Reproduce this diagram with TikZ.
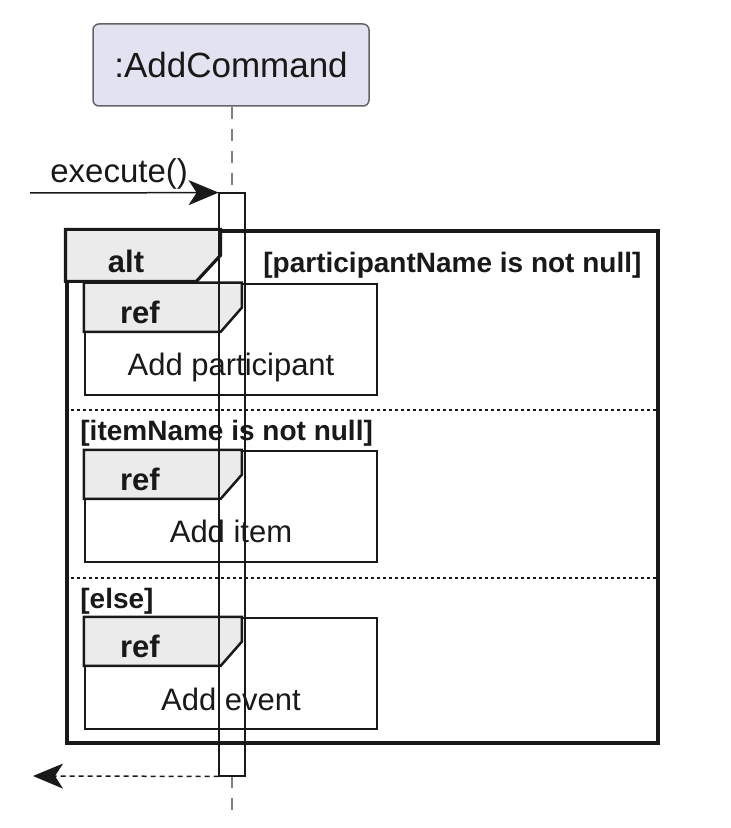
\documentclass[tikz,border=0pt]{standalone}
\usepackage{fontspec}
\setmainfont{Liberation Sans}
\usetikzlibrary{arrows.meta}
\definecolor{partfill}{RGB}{226,226,240}
\definecolor{partdraw}{RGB}{100,100,100}
\definecolor{tabfill}{RGB}{235,235,235}
\definecolor{ink}{RGB}{25,25,25}
\begin{document}
\begin{tikzpicture}[x=0.5pt,y=-0.5pt,
  participant/.style={draw=partdraw, fill=partfill, rounded corners=3pt, line width=0.75pt,
    minimum width=138pt, minimum height=41pt, inner sep=0pt, text=ink,
    font=\fontsize{17.5}{20}\selectfont},
  lifeline/.style={draw=gray, line width=0.75pt, dash pattern=on 6pt off 5pt},
  actbox/.style={rectangle, minimum width=13pt, minimum height=291.5pt, inner sep=0pt},
  msg/.style={draw=ink, line width=0.75pt, -{Stealth[length=15pt,width=12.5pt,inset=4pt]}},
  retmsg/.style={msg, dash pattern=on 2.5pt off 2pt},
  altframe/.style={rectangle, draw=ink, line width=1.6pt, minimum width=295.5pt, minimum height=256pt, inner sep=0pt},
  refbox/.style={rectangle, draw=ink, fill=white, line width=1.25pt, minimum width=146pt, minimum height=55.5pt, inner sep=0pt},
  tabshape/.style={draw=ink, fill=tabfill, line width=1.25pt, line join=miter},
  tablabel/.style={inner sep=0pt, text=ink, font=\bfseries\fontsize{15.5}{18}\selectfont},
  guard/.style={inner sep=0pt, text=ink, font=\bfseries\fontsize{14}{17}\selectfont},
  plain/.style={inner sep=0pt, text=ink, font=\fontsize{15.5}{19}\selectfont},
  msglabel/.style={inner sep=0pt, text=ink, font=\fontsize{16.5}{19}\selectfont},
  divider/.style={draw=ink, line width=0.75pt, dash pattern=on 1.5pt off 1.5pt}
]
\useasboundingbox (0,0) rectangle (730,828);

% participant and lifeline
\node[participant] (p) at (231,65) {:AddCommand};
\node[actbox, fill=white] (act) at (232,484.5) {};
\coordinate (lend) at (232,818);
\draw[lifeline] (p.south -| act.north) -- (act.north);
\draw[lifeline] (act.south) -- (lend);

% alt frame
\node[altframe] (alt) at (362.5,487) {};
\draw[tabshape, line width=1.6pt] (alt.north west) -- ++(155,0) -- ++(0,26) -- ++(-24,26) -- ++(-131,0) -- cycle;
\node[tablabel, anchor=base] (altlbl) at (126,272) {alt};
\node[guard, anchor=base west] (g1) at (263,272) {[participantName is not null]};

% ref 1
\node[refbox] (r1) at (231,339.5) {};
\draw[tabshape] (r1.north west) -- ++(158,0) -- ++(0,25) -- ++(-21,24) -- ++(-137,0) -- cycle;
\node[tablabel, anchor=base] (r1t) at (140,323) {ref};
\node[plain, anchor=base] (r1c) at (231,375) {Add participant};

% divider 1
\draw[divider] (alt.west |- 0,410) -- (alt.east |- 0,410);
\node[guard, anchor=base west] (g2) at (80,440) {[itemName is not null]};

% ref 2
\node[refbox] (r2) at (231,506.5) {};
\draw[tabshape] (r2.north west) -- ++(158,0) -- ++(0,25) -- ++(-21,24) -- ++(-137,0) -- cycle;
\node[tablabel, anchor=base] (r2t) at (140,490) {ref};
\node[plain, anchor=base] (r2c) at (231,542) {Add item};

% divider 2
\draw[divider] (alt.west |- 0,578) -- (alt.east |- 0,578);
\node[guard, anchor=base west] (g3) at (80,608) {[else]};

% ref 3
\node[refbox] (r3) at (231,673.5) {};
\draw[tabshape] (r3.north west) -- ++(158,0) -- ++(0,25) -- ++(-21,24) -- ++(-137,0) -- cycle;
\node[tablabel, anchor=base] (r3t) at (140,657) {ref};
\node[plain, anchor=base] (r3c) at (231,710) {Add event};

% activation outline on top
\draw[draw=ink, line width=1pt] (act.north west) rectangle (act.south east);

% messages
\coordinate (src) at (30,193);
\coordinate (ret) at (33,776);
\draw[msg] (src) -- (act.north west);
\node[msglabel, anchor=base west] (exlbl) at (50,183) {execute()};
\draw[retmsg] (act.south west) -- (ret);
\end{tikzpicture}
\end{document}
